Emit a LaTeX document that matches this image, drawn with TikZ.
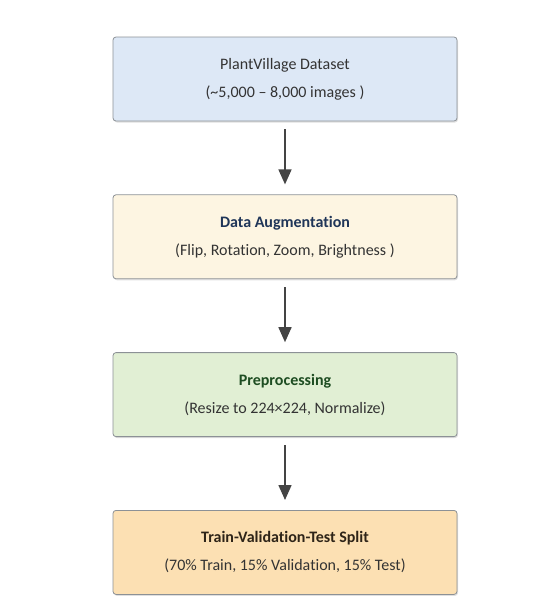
\documentclass[tikz,border=0pt]{standalone}
\usepackage{fontspec}
\setmainfont[Ligatures=NoCommon]{Carlito}
\usetikzlibrary{positioning,arrows.meta,shadows}

\definecolor{boxblue}{HTML}{DDE8F6}
\definecolor{boxcream}{HTML}{FDF5E2}
\definecolor{boxgreen}{HTML}{E1EFD4}
\definecolor{boxorange}{HTML}{FCE0B3}
\definecolor{boxline}{HTML}{8C9196}
\definecolor{navytext}{HTML}{1F3558}
\definecolor{greentext}{HTML}{1E4D22}
\definecolor{browntext}{HTML}{2E2418}
\definecolor{arrowgray}{HTML}{444444}

\tikzset{
  stage/.style={draw=boxline, line width=.8pt, rounded corners=3pt,
    minimum width=344pt, minimum height=84pt, align=center,
    font=\fontsize{16}{28}\selectfont, text=black!80,
    drop shadow={shadow xshift=1pt, shadow yshift=-1.5pt, opacity=.25}},
  flow/.style={draw=arrowgray, line width=1.6pt,
    -{Triangle[width=13pt,length=15pt]}, shorten <=8pt, shorten >=10pt}
}

\begin{document}
\begin{tikzpicture}[x=1pt,y=-1pt]
  \useasboundingbox (0,0) rectangle (540,608);
  \node [stage, fill=boxblue] (data) at (285,79)
    {PlantVillage Dataset\\(\textasciitilde5,000 – 8,000 images )};
  \node [stage, fill=boxcream, below=73pt of data] (augment)
    {\textbf{\textcolor{navytext}{Data Augmentation}}\\(Flip, Rotation, Zoom, Brightness )};
  \node [stage, fill=boxgreen, below=73pt of augment] (prep)
    {\textbf{\textcolor{greentext}{Preprocessing}}\\(Resize to 224×224, Normalize)};
  \node [stage, fill=boxorange, below=73pt of prep] (split)
    {\textbf{\textcolor{browntext}{Train-Validation-Test Split}}\\(70\% Train, 15\% Validation, 15\% Test)};
  % arrows between the stages
  \draw [flow] (data) -- (augment);
  \draw [flow] (augment) -- (prep);
  \draw [flow] (prep) -- (split);
\end{tikzpicture}
\end{document}
